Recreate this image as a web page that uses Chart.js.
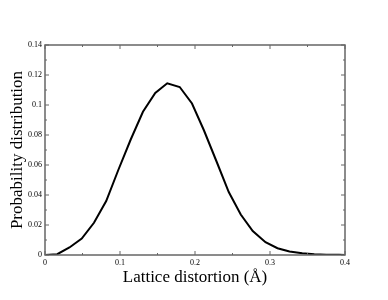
<!DOCTYPE html>
<html>
<head>
<meta charset="utf-8">
<script src="https://cdn.jsdelivr.net/npm/chart.js@4.4.1/dist/chart.umd.min.js"></script>
<style>
  html, body { margin: 0; padding: 0; background: #fff; }
  #wrap { width: 388px; height: 300px; }
</style>
</head>
<body>
<div id="wrap"><canvas id="grafico"></canvas></div>
<script>
// distortion (Å) and probability
const distorsion = [0, 0.0163, 0.0326, 0.049, 0.0653, 0.0816, 0.098, 0.1143, 0.1306, 0.147,
    0.163, 0.1796, 0.196, 0.212, 0.229, 0.245, 0.261, 0.277, 0.294, 0.310,
    0.326, 0.343, 0.359, 0.375, 0.392, 0.4];
const probabilidad = [0, 0.0005, 0.005, 0.011, 0.0215, 0.036, 0.057, 0.077, 0.0955, 0.108,
    0.1145, 0.112, 0.101, 0.083, 0.062, 0.042, 0.027, 0.016, 0.0085, 0.0045,
    0.0023, 0.0011, 0.0005, 0.0002, 0.0001, 0];
const ticksX = [0, 0.1, 0.2, 0.3, 0.4];
const ticksY = [0, 0.02, 0.04, 0.06, 0.08, 0.1, 0.12, 0.14];
const menoresX = [0.05, 0.15, 0.25, 0.35];
const menoresY = [0.01, 0.03, 0.05, 0.07, 0.09, 0.11, 0.13];

const fuente = "'Liberation Serif', 'DejaVu Serif', serif";

// frame and inward ticks on all four sides
const marco = {
    id: 'marco',
    afterDatasetsDraw(chart) {
        const ctx = chart.ctx;
        const a = chart.chartArea;
        const sx = chart.scales.x, sy = chart.scales.y;
        ctx.save();
        ctx.strokeStyle = '#666';
        ctx.lineWidth = 1.5;
        ctx.strokeRect(a.left, a.top, a.right - a.left, a.bottom - a.top);
        ctx.lineWidth = 1;
        const marcas = (lista, largo) => {
            lista.forEach(v => {
                const px = sx.getPixelForValue(v);
                ctx.beginPath();
                ctx.moveTo(px, a.bottom); ctx.lineTo(px, a.bottom - largo);
                ctx.moveTo(px, a.top); ctx.lineTo(px, a.top + largo);
                ctx.stroke();
            });
        };
        const marcasY = (lista, largo) => {
            lista.forEach(v => {
                const py = sy.getPixelForValue(v);
                ctx.beginPath();
                ctx.moveTo(a.left, py); ctx.lineTo(a.left + largo, py);
                ctx.moveTo(a.right, py); ctx.lineTo(a.right - largo, py);
                ctx.stroke();
            });
        };
        marcas(ticksX, 4);
        marcas(menoresX, 2);
        marcasY(ticksY, 4);
        marcasY(menoresY, 2);
        ctx.restore();
    }
};

new Chart(document.getElementById('grafico'), {
    type: 'line',
    data: {
        datasets: [{
            data: distorsion.map((x, i) => ({ x: x, y: probabilidad[i] })),
            borderColor: '#000',
            borderWidth: 2,
            pointRadius: 0,
            tension: 0,
            fill: false
        }]
    },
    options: {
        responsive: true,
        maintainAspectRatio: false,
        animation: false,
        layout: { padding: { left: 0, right: 43, top: 45, bottom: 12 } },
        plugins: { legend: { display: false }, tooltip: { enabled: false } },
        scales: {
            x: {
                type: 'linear',
                min: 0, max: 0.4,
                afterFit: s => { s.height = 33; },
                afterBuildTicks: s => { s.ticks = ticksX.map(v => ({ value: v })); },
                grid: { display: false, drawTicks: false },
                border: { display: false },
                ticks: {
                    font: { family: fuente, size: 8 },
                    color: '#000',
                    padding: 3,
                    maxRotation: 0,
                    callback: v => String(Number(v.toFixed(2)))
                },
                title: {
                    display: true,
                    text: 'Lattice distortion (Å)',
                    font: { family: fuente, size: 17 },
                    color: '#000',
                    padding: { top: 0, bottom: 0 }
                }
            },
            y: {
                min: 0, max: 0.14,
                afterFit: s => { s.width = 45; },
                afterBuildTicks: s => { s.ticks = ticksY.map(v => ({ value: v })); },
                grid: { display: false, drawTicks: false },
                border: { display: false },
                ticks: {
                    font: { family: fuente, size: 8 },
                    color: '#000',
                    padding: 3,
                    callback: v => String(Number(v.toFixed(2)))
                },
                title: {
                    display: true,
                    text: 'Probability distribution',
                    font: { family: fuente, size: 17 },
                    color: '#000',
                    padding: { top: 7, bottom: 0 }
                }
            }
        }
    },
    plugins: [marco]
});
</script>
</body>
</html>
